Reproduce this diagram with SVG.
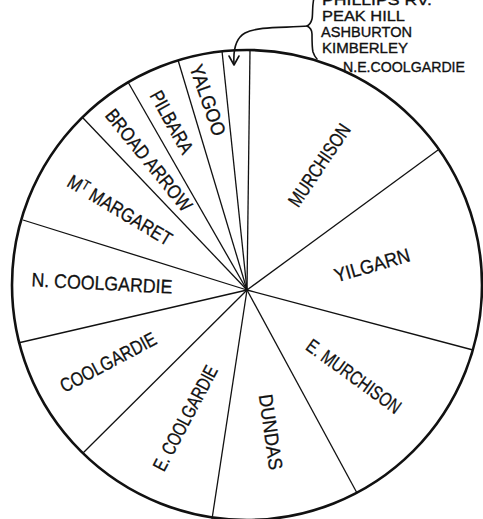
<svg xmlns="http://www.w3.org/2000/svg" width="483" height="519" viewBox="0 0 483 519">
<style>
.lbl{font-family:"Liberation Sans",Arial,sans-serif;font-size:19.5px;fill:#111;stroke:#111;stroke-width:0.3;text-anchor:middle}
.key{font-family:"Liberation Sans",Arial,sans-serif;font-size:15px;fill:#111;stroke:#111;stroke-width:0.35}
.spoke{stroke:#111;stroke-width:1.3;fill:none}
.ink{stroke:#111;stroke-width:1.6;fill:none;stroke-linecap:round;stroke-linejoin:round}
</style>
<rect width="483" height="519" fill="#fff"/>
<g id="pie-outline">
<circle cx="247" cy="285" r="235" fill="#fff" stroke="#111" stroke-width="2.6"/>
</g>
<g id="spokes">
<line class="spoke" x1="247" y1="290" x2="250" y2="50"/>
<line class="spoke" x1="247" y1="290" x2="222" y2="51"/>
<line class="spoke" x1="247" y1="290" x2="178" y2="60"/>
<line class="spoke" x1="247" y1="290" x2="128" y2="82"/>
<line class="spoke" x1="247" y1="290" x2="83" y2="118"/>
<line class="spoke" x1="247" y1="290" x2="23" y2="220"/>
<line class="spoke" x1="247" y1="290" x2="18" y2="343"/>
<line class="spoke" x1="247" y1="290" x2="83" y2="453"/>
<line class="spoke" x1="247" y1="290" x2="212" y2="519"/>
<line class="spoke" x1="247" y1="290" x2="357" y2="493"/>
<line class="spoke" x1="247" y1="290" x2="473" y2="350"/>
<line class="spoke" x1="247" y1="290" x2="438" y2="150"/>
</g>
<g id="murchison"><text class="lbl" transform="translate(319,165) rotate(-56)" y="7" textLength="95" lengthAdjust="spacingAndGlyphs">MURCHISON</text></g>
<g id="yilgarn"><text class="lbl" transform="translate(372,265) rotate(-16)" y="7" textLength="78" lengthAdjust="spacingAndGlyphs">YILGARN</text></g>
<g id="e-murchison"><text class="lbl" transform="translate(354,376) rotate(36)" y="7" textLength="112" lengthAdjust="spacingAndGlyphs">E. MURCHISON</text></g>
<g id="dundas"><text class="lbl" transform="translate(271,432) rotate(82)" y="7" textLength="76" lengthAdjust="spacingAndGlyphs">DUNDAS</text></g>
<g id="e-coolgardie"><text class="lbl" transform="translate(185,418) rotate(-62)" y="7" textLength="116" lengthAdjust="spacingAndGlyphs">E. COOLGARDIE</text></g>
<g id="coolgardie"><text class="lbl" transform="translate(108,362) rotate(-28)" y="7" textLength="106" lengthAdjust="spacingAndGlyphs">COOLGARDIE</text></g>
<g id="n-coolgardie"><text class="lbl" transform="translate(102,283) rotate(3)" y="7" textLength="141" lengthAdjust="spacingAndGlyphs">N. COOLGARDIE</text></g>
<g id="mt-margaret"><text class="lbl" transform="translate(120,210) rotate(31)" y="7" textLength="118" lengthAdjust="spacingAndGlyphs">M<tspan font-size="14" dy="-6">T</tspan><tspan dy="6"> MARGARET</tspan></text></g>
<g id="broad-arrow"><text class="lbl" transform="translate(149,160) rotate(51)" y="7" textLength="125" lengthAdjust="spacingAndGlyphs">BROAD ARROW</text></g>
<g id="pilbara"><text class="lbl" transform="translate(172,122) rotate(61)" y="7" textLength="69" lengthAdjust="spacingAndGlyphs">PILBARA</text></g>
<g id="yalgoo"><text class="lbl" transform="translate(208,100) rotate(71)" y="7" textLength="74" lengthAdjust="spacingAndGlyphs">YALGOO</text></g>
<g id="small-districts">
<text class="key" x="322" y="4.5" textLength="110" lengthAdjust="spacingAndGlyphs">PHILLIPS RV.</text>
<text class="key" x="322" y="20.5" textLength="83" lengthAdjust="spacingAndGlyphs">PEAK HILL</text>
<text class="key" x="321" y="36.5" textLength="91" lengthAdjust="spacingAndGlyphs">ASHBURTON</text>
<text class="key" x="322" y="52.5" textLength="86" lengthAdjust="spacingAndGlyphs">KIMBERLEY</text>
<text class="key" x="343" y="72" textLength="122" lengthAdjust="spacingAndGlyphs">N.E.COOLGARDIE</text>
<path class="ink" d="M314,-2 C312,5 313,15 312,19 C311,23 309,25 307,26 C309,27 312,29 312,34 C312,40 312,48 313,52 C314,55 315,57 317,59"/>
</g>
<g id="connectors">
<path class="ink" d="M308,26 C285,28 258,26 245,33 C236,38 233,48 234,64"/>
<path class="ink" d="M229,56 L234,65 L239,56"/>
</g>
</svg>
